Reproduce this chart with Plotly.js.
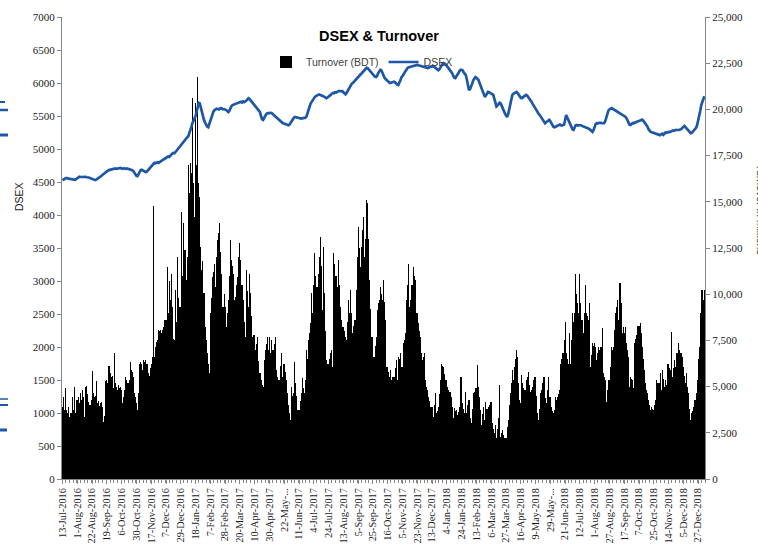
<!DOCTYPE html>
<html>
<head>
<meta charset="utf-8">
<script src="https://cdn.plot.ly/plotly-3.0.1.min.js"></script>
<style>html,body{margin:0;padding:0;background:#fff;}#chart{width:758px;height:545px;}</style>
</head>
<body>
<div id="chart"></div>
<script>
// Tick labels (every 14th trading day)
var tickLabels = ["13-Jul-2016","1-Aug-2016","22-Aug-2016","19-Sep-2016","6-Oct-2016","30-Oct-2016","17-Nov-2016","7-Dec-2016","29-Dec-2016","18-Jan-2017","7-Feb-2017","28-Feb-2017","20-Mar-2017","10-Apr-2017","30-Apr-2017","22-May-...","11-Jun-2017","4-Jul-2017","24-Jul-2017","13-Aug-2017","5-Sep-2017","25-Sep-2017","16-Oct-2017","5-Nov-2017","23-Nov-2017","13-Dec-2017","4-Jan-2018","24-Jan-2018","13-Feb-2018","6-Mar-2018","27-Mar-2018","16-Apr-2018","9-May-2018","29-May-...","21-Jun-2018","12-Jul-2018","1-Aug-2018","27-Aug-2018","17-Sep-2018","7-Oct-2018","25-Oct-2018","14-Nov-2018","5-Dec-2018","27-Dec-2018"];
var labelStep = 14;

// DSEX index (daily)
var dsex = [
4525,4540,4555,4560,4558,4550,4552,4548,4545,4540,4535,4528,4532,4545,
4555,4570,4580,4576,4578,4575,4580,4585,4578,4572,4575,4568,4560,4552,
4545,4538,4530,4528,4535,4545,4558,4570,4585,4595,4610,4625,4640,4650,
4660,4672,4680,4685,4690,4688,4695,4700,4705,4698,4702,4710,4715,4712,
4705,4700,4708,4702,4698,4705,4700,4695,4690,4692,4680,4665,4640,4615,
4595,4590,4620,4660,4680,4685,4678,4672,4665,4650,4660,4680,4700,4720,
4740,4760,4775,4790,4785,4795,4800,4790,4805,4815,4825,4835,4845,4855,
4860,4870,4885,4880,4900,4915,4930,4940,4935,4955,4975,4995,5020,5040,
5060,5085,5110,5125,5150,5160,5175,5190,5230,5280,5330,5390,5420,5450,
5500,5560,5640,5700,5690,5620,5560,5500,5440,5400,5360,5340,5330,5380,
5450,5500,5545,5570,5590,5600,5610,5605,5598,5612,5620,5610,5600,5605,
5600,5590,5575,5560,5580,5620,5650,5665,5670,5680,5690,5685,5700,5705,
5710,5715,5705,5720,5710,5715,5730,5750,5770,5760,5745,5720,5700,5680,
5665,5650,5620,5600,5585,5560,5500,5450,5440,5480,5515,5530,5540,5545,
5540,5548,5545,5530,5510,5490,5485,5470,5450,5430,5420,5410,5400,5390,
5385,5375,5370,5365,5360,5370,5400,5420,5440,5470,5485,5480,5470,5465,
5460,5455,5460,5465,5470,5468,5475,5490,5530,5580,5640,5690,5720,5750,
5770,5790,5800,5815,5820,5825,5820,5810,5815,5800,5790,5775,5770,5780,
5790,5800,5820,5835,5850,5845,5860,5855,5865,5870,5880,5875,5882,5878,
5860,5840,5830,5850,5880,5900,5930,5960,5990,6000,6020,6040,6060,6080,
6100,6110,6125,6140,6160,6180,6200,6215,6230,6225,6210,6190,6170,6150,
6130,6110,6095,6090,6110,6150,6185,6200,6190,6150,6110,6080,6060,6045,
6030,6010,6000,6005,6010,6015,6020,6010,5990,5975,5970,5995,6040,6085,
6100,6130,6160,6190,6210,6230,6240,6245,6250,6255,6262,6268,6272,6270,
6275,6268,6262,6258,6260,6255,6248,6240,6235,6230,6225,6235,6248,6252,
6250,6255,6245,6230,6215,6200,6195,6210,6240,6265,6290,6300,6295,6280,
6260,6240,6220,6190,6165,6150,6110,6080,6075,6095,6120,6150,6180,6200,
6200,6190,6160,6130,6120,6050,5960,5890,5910,5940,5990,6040,6080,6090,
6080,6065,6045,6000,5960,5925,5880,5830,5790,5810,5840,5865,5860,5850,
5840,5830,5820,5760,5700,5645,5660,5680,5700,5690,5650,5600,5560,5540,
5510,5485,5520,5600,5700,5790,5820,5835,5845,5855,5865,5850,5820,5790,
5775,5770,5785,5800,5815,5820,5810,5790,5770,5750,5720,5690,5660,5640,
5620,5590,5560,5530,5515,5490,5460,5420,5395,5390,5405,5420,5435,5440,
5420,5390,5360,5335,5330,5340,5350,5360,5365,5370,5360,5355,5362,5368,
5440,5515,5480,5440,5410,5370,5330,5300,5290,5320,5360,5365,5355,5360,
5365,5360,5350,5345,5335,5330,5320,5318,5310,5300,5285,5270,5260,5290,
5340,5380,5390,5385,5395,5400,5395,5390,5388,5392,5420,5480,5540,5580,
5600,5615,5620,5610,5600,5590,5580,5570,5565,5560,5550,5540,5525,5515,
5505,5490,5470,5440,5400,5370,5365,5380,5395,5390,5400,5410,5415,5420,
5425,5435,5440,5445,5430,5410,5390,5370,5340,5300,5270,5260,5255,5250,
5250,5235,5240,5225,5230,5215,5210,5220,5230,5215,5240,5250,5245,5255,
5260,5255,5265,5270,5280,5275,5285,5290,5288,5285,5290,5295,5300,5320,
5345,5350,5330,5310,5290,5270,5255,5240,5245,5260,5280,5300,5320,5360,
5420,5485,5580,5665,5700,5760,5800
];

// Turnover in million BDT (daily)
var turnover = [
3900,4450,3730,4900,3730,3550,3900,3370,3550,4450,3730,4990,3550,4270,
4270,4450,4100,4630,4300,4810,4450,3370,4990,5050,4600,4180,4000,4270,
5860,4630,4450,4500,5300,4090,4200,3950,4100,4180,3900,3080,3400,5300,
5350,5170,6100,5710,5530,5600,4900,6820,5170,4990,4810,5100,4900,4990,
4810,4090,4450,4810,5530,5350,5170,5350,6330,5890,5800,5500,4630,4450,
4100,3730,4630,6250,6330,6250,5890,6430,6350,6430,6250,5710,5600,6000,
6250,6610,14770,6610,7160,7400,7520,8060,8000,8060,7900,8060,8240,8600,
8600,11480,9000,10700,9700,11120,9320,7600,7520,10220,8500,12030,9800,9320,
9320,14460,11000,13830,12390,10760,12000,16990,15500,17080,16540,20600,16000,14190,
20320,17000,21770,16000,15270,12570,11300,11800,10040,8240,7500,6800,6200,5710,
8960,9800,10940,11200,11660,10400,12000,12930,13290,13830,12300,11120,9320,10000,
9320,8240,9000,9680,11000,12930,11850,11500,11120,9680,9860,10500,10940,12000,
12750,11850,10500,9680,8500,7700,11300,10200,9320,11120,10040,8800,7700,7790,
7790,6980,7300,7700,6400,5710,5350,5100,4990,6430,6980,7300,7700,7000,
7700,6800,7520,7000,6980,7300,7700,5890,5500,5350,6100,6800,5530,6250,
6250,5800,5350,4630,4000,3550,3190,4990,4500,4630,6330,5170,4500,3730,
3730,4200,4630,5440,4900,4630,5350,6980,6500,7520,7900,8420,10040,9000,
10500,12210,11000,10400,11120,12000,13110,11500,9140,12570,10040,8000,6430,6250,
6250,6520,6800,6980,6070,12210,11660,11000,10400,11850,10500,9320,8600,8240,
8240,8000,7700,7520,8500,9680,8960,10220,9000,7880,8300,8600,10220,12000,
13650,12500,11480,12570,13500,14190,12030,13000,15090,14910,13000,10760,9200,7700,
7700,6610,7200,7700,9140,9500,9680,10400,10000,9680,10760,9600,8600,6070,
6070,5800,5530,5890,5350,5500,5530,6000,6430,5350,6610,6500,6800,6070,
6070,7340,7500,7880,9680,10500,11660,9320,9680,10500,11480,11000,10760,8960,
8960,8420,8000,7700,6800,6430,6600,6800,5350,5000,4810,4450,4200,3910,
3910,3370,4000,4630,3550,3700,3910,4600,5350,6250,6100,6070,5700,5350,
5350,4990,4800,4710,4450,3910,3280,3820,3700,3730,3460,3600,3910,5530,
5530,4090,3800,3550,4720,3550,4000,4270,3280,3010,3800,4630,4700,4900,
4900,6160,5000,4450,3730,2920,3500,3910,3190,4180,3800,3910,4000,4180,
4180,3010,2700,2470,2920,2200,2700,3280,5080,2280,2500,2650,2400,2200,
2200,2800,3190,4000,4630,5200,5890,5350,6070,6500,6980,6610,5170,4300,
4090,5620,5200,4900,4810,5350,5500,5800,5100,4720,4810,5000,5350,5530,
5530,4500,3550,3190,3800,4630,4810,5200,5530,4360,4090,4800,5530,4450,
4450,3910,3700,3550,3730,4450,4300,4450,4600,4810,6250,6500,6800,7500,
8510,6800,6500,6250,7880,6250,7500,8960,8500,8960,11120,10000,9500,9000,
11120,9500,8600,7880,8960,10490,8960,8800,8600,9500,6070,6700,7340,7200,
7340,7160,6430,6800,7160,7000,7160,8150,5710,5500,5350,4180,4800,5350,
5350,6070,7160,7000,7160,8060,8960,9300,9680,8600,10580,9500,7880,8240,
7880,8240,7340,7000,6610,4990,5530,5400,5350,4900,7340,7600,7800,8270,
8270,8420,7880,7160,6500,5890,5200,4810,4630,4270,4000,3730,3910,3800,
3730,4000,4270,5350,5170,5200,5710,4810,5890,5400,4990,5350,5100,6250,
6250,6000,5890,7970,5530,6000,6430,6070,6800,7340,7000,6800,6800,6600,
6070,5600,5170,5710,5000,4630,3800,3190,3550,3700,3910,4300,4630,5350,
6500,7160,9000,10220,10220,9680,10220
];

var n = Math.min(dsex.length, turnover.length);
var idx = [];
for (var i = 0; i < n; i++) idx.push(i);
var tickVals = tickLabels.map(function (_, k) { return k * labelStep; });

var axisGray = '#868686';
var tickFont = {family: 'Liberation Serif, serif', size: 11, color: '#1a1a1a'};
var xTickFont = {family: 'Liberation Serif, serif', size: 10.3, color: '#1a1a1a'};

var traces = [
  {
    type: 'bar', name: 'Turnover (BDT)', x: idx, y: turnover, yaxis: 'y',
    marker: {color: '#000000', line: {width: 0}}, width: 1
  },
  {
    type: 'scatter', mode: 'lines', name: 'DSEX', x: idx, y: dsex, yaxis: 'y2',
    line: {color: '#1d57a6', width: 2.7}
  }
];

function px2x(p) { return (p - 62) / 643; }
function py2y(p) { return (479 - p) / 462; }
var blue = '#1d57a6';
var shapes = [
  {type: 'line', xref: 'paper', yref: 'paper', x0: px2x(0), x1: px2x(5), y0: py2y(102), y1: py2y(102), line: {color: blue, width: 2}},
  {type: 'line', xref: 'paper', yref: 'paper', x0: px2x(0), x1: px2x(8), y0: py2y(110), y1: py2y(110), line: {color: blue, width: 2.5}},
  {type: 'line', xref: 'paper', yref: 'paper', x0: px2x(0), x1: px2x(8), y0: py2y(135), y1: py2y(135), line: {color: blue, width: 3}},
  {type: 'line', xref: 'paper', yref: 'paper', x0: px2x(0), x1: px2x(8), y0: py2y(399), y1: py2y(399), line: {color: blue, width: 1.5}},
  {type: 'line', xref: 'paper', yref: 'paper', x0: px2x(0), x1: px2x(8), y0: py2y(405), y1: py2y(405), line: {color: blue, width: 2}},
  {type: 'line', xref: 'paper', yref: 'paper', x0: px2x(0), x1: px2x(7), y0: py2y(430), y1: py2y(430), line: {color: blue, width: 3}}
];

var layout = {
  width: 758, height: 545,
  margin: {l: 62, r: 53, t: 17, b: 66},
  paper_bgcolor: '#ffffff', plot_bgcolor: '#ffffff',
  showlegend: true,
  bargap: 0,
  title: {
    text: '<b>DSEX & Turnover</b>',
    font: {family: 'Liberation Sans, Arial, sans-serif', size: 14.5, color: '#000000'},
    x: 0.5, xanchor: 'center', xref: 'container',
    y: 1 - 36 / 545, yanchor: 'middle', yref: 'container'
  },
  legend: {
    orientation: 'h', x: px2x(266), xanchor: 'left', y: py2y(62), yanchor: 'middle',
    bgcolor: 'rgba(0,0,0,0)', borderwidth: 0,
    font: {family: 'Liberation Sans, Arial, sans-serif', size: 10.5, color: '#404040'},
    traceorder: 'normal'
  },
  xaxis: {
    range: [-0.5, n - 0.5], autorange: false,
    tickmode: 'array', tickvals: tickVals, ticktext: tickLabels,
    tickangle: -90, tickfont: xTickFont,
    ticks: 'outside', ticklen: 4, tickcolor: axisGray,
    showline: true, linecolor: axisGray, linewidth: 1,
    showgrid: false, zeroline: false, automargin: false,
    minor: {tickmode: 'linear', tick0: -0.5, dtick: 3.5, ticks: 'outside', ticklen: 2.5, tickcolor: axisGray, showgrid: false}
  },
  yaxis: {
    side: 'right', range: [0, 25000], autorange: false, dtick: 2500, tickformat: ',d',
    tickfont: tickFont, ticks: 'outside', ticklen: 4, tickcolor: axisGray,
    showline: true, linecolor: axisGray, linewidth: 1,
    showgrid: false, zeroline: false, automargin: false
  },
  yaxis2: {
    side: 'left', overlaying: 'y', anchor: 'x', range: [0, 7000], autorange: false, dtick: 500,
    tickformat: 'd',
    tickfont: tickFont, ticks: 'outside', ticklen: 4, tickcolor: axisGray,
    showline: true, linecolor: axisGray, linewidth: 1,
    showgrid: false, zeroline: false, automargin: false
  },
  shapes: shapes,
  annotations: [
    {text: 'DSEX', xref: 'paper', yref: 'paper', x: px2x(19), y: py2y(197),
     showarrow: false, textangle: -90, xanchor: 'center', yanchor: 'middle',
     font: {family: 'Liberation Sans, Arial, sans-serif', size: 10.5, color: '#1a1a1a'}},
    {text: 'Turnover in millions', xref: 'paper', yref: 'paper', x: px2x(761), y: py2y(210),
     showarrow: false, textangle: 90, xanchor: 'center', yanchor: 'middle',
     font: {family: 'Liberation Sans, Arial, sans-serif', size: 10.5, color: '#1a1a1a'}}
  ]
};

Plotly.newPlot('chart', traces, layout, {displayModeBar: false, staticPlot: true});
</script>
</body>
</html>
